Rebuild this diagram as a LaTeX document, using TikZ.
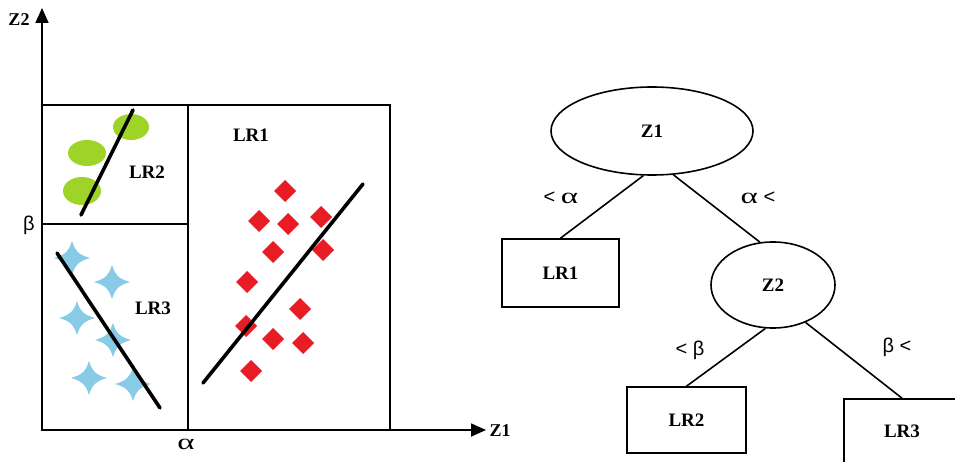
\documentclass[tikz,border=0pt]{standalone}
\usepackage{fontspec}
\setmainfont{Liberation Serif}
\newfontfamily\grk{Liberation Sans}
\usetikzlibrary{arrows.meta,shapes.geometric,calc}

\definecolor{leafgreen}{RGB}{158,212,40}
\definecolor{dotred}{RGB}{232,28,36}
\definecolor{starblue}{RGB}{135,203,230}

% wide alpha glyph
\newcommand{\wal}{{\fontsize{22}{24}\selectfont\rmfamily\scalebox{1.5}[1]{α}}}

\tikzset{
  lbl/.style={font=\fontsize{19}{22}\selectfont\bfseries, inner sep=0pt},
  axislbl/.style={font=\fontsize{18}{21}\selectfont\bfseries, inner sep=0pt},
  greek/.style={font=\fontsize{20}{23}\selectfont\grk, inner sep=0pt},
  frame/.style={line width=1.6pt},
  fitline/.style={line width=3.6pt, line cap=round},
  axis/.style={line width=1.8pt, -{Triangle[length=15pt,width=13pt]}},
  treenode/.style={draw, line width=1.6pt, inner sep=0pt, font=\fontsize{19}{22}\selectfont\bfseries},
  oval/.style={treenode, ellipse},
  leafbox/.style={treenode, rectangle},
  branch/.style={line width=1.6pt},
  gem/.pic={\fill[dotred] (-11,0) -- (0,-11) -- (11,0) -- (0,11) -- cycle;},
  spark/.pic={\fill[starblue] (-18,0) .. controls (-7,-3) and (-3,-7) .. (0,-17)
      .. controls (3,-7) and (7,-3) .. (18,0)
      .. controls (7,3) and (3,7) .. (0,17)
      .. controls (-3,7) and (-7,3) .. (-18,0) -- cycle;},
}

\begin{document}
\begin{tikzpicture}[x=1pt,y=-1pt]
\useasboundingbox (0,0) rectangle (955,462);
\clip (0,0) rectangle (955,462);

% ---------- feature space ----------
\coordinate (O) at (42,430);
\coordinate (ytip) at (42,8);
\coordinate (xtip) at (486,430);
\coordinate (tl) at (42,105);
\coordinate (br) at (390,430);
\coordinate (atop) at (188,105);
\coordinate (abot) at (188,430);
\coordinate (bleft) at (42,224);
\coordinate (bright) at (188,224);

\draw[frame] (tl) rectangle (br);
\draw[frame] (atop) -- (abot);
\draw[frame] (bleft) -- (bright);
\draw[axis] (O) -- (ytip);
\draw[axis] (O) -- (xtip);

\node[axislbl] (z2ax) at (19,20) {Z2};
\node[axislbl] (z1ax) at (500,431) {Z1};
\node[greek] (betaax) at (29,225) {β};
\node[greek] (alphaax) at (186,444) {\wal};

% LR2 cluster: green blobs
\fill[leafgreen] (131,127) ellipse [x radius=18, y radius=13];
\fill[leafgreen] (87,153) ellipse [x radius=19, y radius=13];
\fill[leafgreen] (82,191) ellipse [x radius=19, y radius=14];
\coordinate (g1) at (81,215);
\coordinate (g2) at (133,110);
\draw[fitline] (g1) -- (g2);

% LR3 cluster: blue sparkles
\foreach \p in {(72,258),(112,282),(77,318),(113,340),(89,378),(133,384)}
  \pic at \p {spark};
\coordinate (b1) at (57,253);
\coordinate (b2) at (160,408);
\draw[fitline] (b1) -- (b2);

% LR1 cluster: red diamonds
\foreach \p in {(285,191),(259,221),(288,224),(321,217),(273,252),(323,250),
                (247,282),(300,309),(246,326),(273,339),(303,343),(251,371)}
  \pic at \p {gem};
\coordinate (r1) at (203,383);
\coordinate (r2) at (363,184);
\draw[fitline] (r1) -- (r2);

\node[lbl] (lr1txt) at (251,135) {LR1};
\node[lbl] (lr2txt) at (147,172) {LR2};
\node[lbl] (lr3txt) at (153,308) {LR3};

% ---------- decision tree ----------
\node[oval, minimum width=202pt, minimum height=88pt] (z1) at (652,131) {Z1};
\node[leafbox, minimum width=117pt, minimum height=68pt] (lr1) at (560.5,273) {LR1};
\node[oval, minimum width=124pt, minimum height=86pt] (z2) at (773,285) {Z2};
\node[leafbox, minimum width=119pt, minimum height=66pt] (lr2) at (686.5,420) {LR2};
\node[leafbox, minimum width=116pt, minimum height=64pt] (lr3) at (902,431) {LR3};

\draw[branch] (z1.-101) -- (lr1.north);
\draw[branch] (z1.-64) -- (z2.107);
\draw[branch] (z2.-100) -- (lr2.north);
\draw[branch] (z2.-49) -- (lr3.north);

\node[greek] (ca) at (561,198) {< \wal};
\node[greek] (cb) at (758,198) {\wal{} <};
\node[greek] (cc) at (690,350) {< β};
\node[greek] (cd) at (897,347) {β <};
\end{tikzpicture}
\end{document}
